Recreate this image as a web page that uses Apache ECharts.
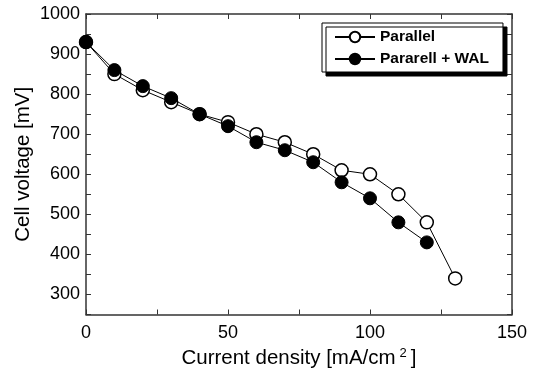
<!DOCTYPE html>
<html>
<head>
<meta charset="utf-8">
<script src="https://cdn.jsdelivr.net/npm/echarts@6/dist/echarts.min.js"></script>
<style>
  html, body { margin: 0; padding: 0; background: #fff; }
  #chart { width: 534px; height: 374px; }
</style>
</head>
<body>
<div id="chart"></div>
<script>
// current density [mA/cm2]
const currentParallel = [0, 10, 20, 30, 40, 50, 60, 70, 80, 90, 100, 110, 120, 130]
const voltageParallel = [930, 850, 810, 780, 750, 730, 700, 680, 650, 610, 600, 550, 480, 340]
const currentWal = [0, 10, 20, 30, 40, 50, 60, 70, 80, 90, 100, 110, 120]
const voltageWal = [930, 860, 820, 790, 750, 720, 680, 660, 630, 580, 540, 480, 430]

const font = 'Liberation Sans, Arial, sans-serif'
const axisColor = '#333'

const pairs = (xs, ys) => xs.map((x, i) => [x, ys[i]])

const chart = echarts.init(document.getElementById('chart'))

const baseAxis = {
  axisLine: { show: true, onZero: false, lineStyle: { color: axisColor, width: 1.5 } },
  axisTick: { show: true, inside: true, length: 5, lineStyle: { color: axisColor, width: 1 } },
  splitLine: { show: false },
  nameLocation: 'middle',
  nameMoveOverlap: false,
  nameTextStyle: { fontFamily: font, fontSize: 20.5, color: '#000' }
}

chart.setOption({
  animation: false,
  textStyle: { fontFamily: font },
  grid: { left: 86, right: 22, top: 14, bottom: 59 },
  legend: {
    orient: 'vertical',
    left: 322,
    top: 23,
    padding: [6, 14, 5, 12],
    itemGap: 6,
    itemWidth: 40,
    itemHeight: 13,
    backgroundColor: '#fff',
    borderColor: '#000',
    borderWidth: 1,
    borderRadius: 0,
    shadowColor: '#000',
    shadowBlur: 0,
    shadowOffsetX: 4,
    shadowOffsetY: 4,
    textStyle: { fontFamily: font, fontSize: 15.5, fontWeight: 'bold', color: '#000' },
    data: ['Parallel', 'Pararell + WAL']
  },
  xAxis: [{
    ...baseAxis,
    type: 'value',
    min: 0,
    max: 150,
    interval: 25,
    name: 'Current density [mA/cm{sup|2}]',
    nameGap: 32,
    nameTextStyle: {
      fontFamily: font, fontSize: 20.5, color: '#000',
      rich: { sup: { fontFamily: font, fontSize: 13, color: '#000', padding: [0, 4, 11, 4] } }
    },
    axisLabel: {
      fontFamily: font, fontSize: 18, color: '#000', margin: 10,
      formatter: v => (v % 50 === 0 ? String(v) : '')
    }
  }, {
    ...baseAxis,
    type: 'value',
    position: 'top',
    min: 0,
    max: 150,
    interval: 25,
    axisLabel: { show: false }
  }],
  yAxis: [{
    ...baseAxis,
    type: 'value',
    min: 250,
    max: 1000,
    interval: 50,
    name: 'Cell voltage [mV]',
    nameGap: 52,
    axisLabel: {
      fontFamily: font, fontSize: 18, color: '#000', margin: 6,
      formatter: v => (v % 100 === 0 ? String(v) : '')
    }
  }, {
    ...baseAxis,
    type: 'value',
    position: 'right',
    min: 250,
    max: 1000,
    interval: 50,
    axisLabel: { show: false }
  }],
  series: [{
    name: 'Parallel',
    type: 'line',
    data: pairs(currentParallel, voltageParallel),
    symbol: 'circle',
    symbolSize: 13,
    z: 3,
    lineStyle: { color: '#000', width: 1 },
    itemStyle: { color: '#fff', borderColor: '#000', borderWidth: 1.5 }
  }, {
    name: 'Pararell + WAL',
    type: 'line',
    data: pairs(currentWal, voltageWal),
    symbol: 'circle',
    symbolSize: 13,
    z: 4,
    lineStyle: { color: '#000', width: 1 },
    itemStyle: { color: '#000', borderColor: '#000', borderWidth: 1 }
  }]
})
</script>
</body>
</html>
